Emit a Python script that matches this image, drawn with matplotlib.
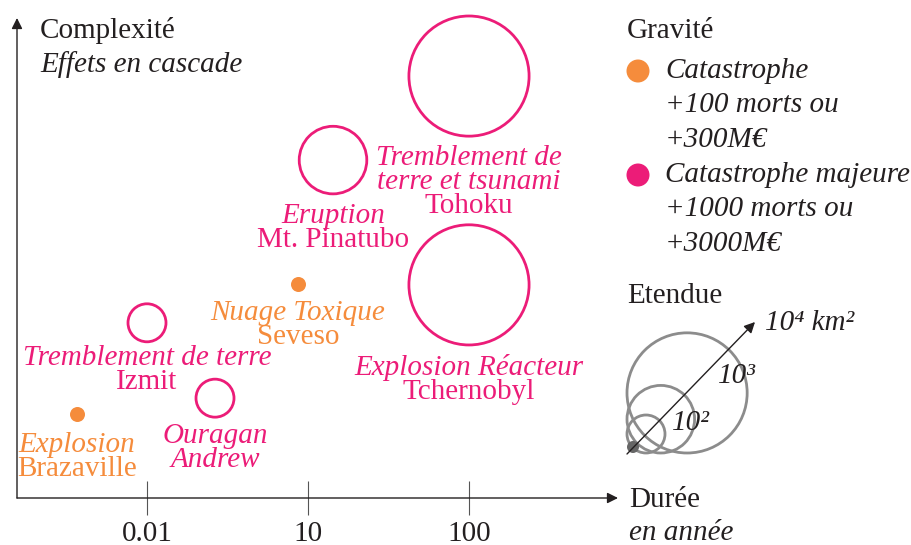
#!/usr/bin/env python
import numpy as np
from matplotlib import pyplot as plt
from matplotlib.patches import Circle

plt.rcParams['font.family'] = ['Liberation Serif', 'DejaVu Serif']

MAGENTA = '#ec1c78'
ORANGE = '#f58c3c'
INK = '#231f20'
GREY = '#8c8c8c'
FS = 21

# events: duration (years), complexity, extent (km2, None = small dot), gravity
events = ['Brazaville', 'Izmit', 'Andrew', 'Seveso', 'Pinatubo', 'Tohoku', 'Tchernobyl']
duree = [5e-4, 0.01, 0.185, 6.5, 14.3, 100, 100]
complexite = [1.75, 3.65, 2.08, 4.46, 7.04, 8.79, 4.44]
etendue = [None, 1e2, 1e2, None, 1e3, 1e4, 1e4]
majeure = [False, True, True, False, True, True, True]

labels = [
    [('Explosion', 'italic'), ('Brazaville', 'normal')],
    [('Tremblement de terre', 'italic'), ('Izmit', 'normal')],
    [('Ouragan', 'italic'), ('Andrew', 'italic')],
    [('Nuage Toxique', 'italic'), ('Seveso', 'normal')],
    [('Eruption', 'italic'), ('Mt. Pinatubo', 'normal')],
    [('Tremblement de', 'italic'), ('terre et tsunami', 'italic'), ('Tohoku', 'normal')],
    [('Explosion Réacteur', 'italic'), ('Tchernobyl', 'normal')],
]
# pixel distance from point centre down to first label baseline
label_drop = [38, 42, 45, 36, 63, 89, 90]

tick_values = [0.01, 10, 100]
tick_labels = ['0.01', '10', '100']
legend_extents = [1e2, 1e3, 1e4]
legend_extent_labels = ['10²', '10³', '10⁴ km²']


def radius_px(area):
    return 19 * (area / 100) ** 0.25


def forward(x):
    lx = np.log10(np.maximum(np.asarray(x, dtype=float), 1e-300))
    return np.where(lx <= 1, 1 + (lx + 2) / 3, 2 + (lx - 1))


def inverse(p):
    p = np.asarray(p, dtype=float)
    return np.where(p <= 2, 10 ** ((p - 1) * 3 - 2), 10 ** (p - 1))


W, H = 912, 545
fig = plt.figure(figsize=(W / 100, H / 100), dpi=100)

# pixel overlay for legend and free text
over = fig.add_axes([0, 0, 1, 1])
over.set_xlim(0, W)
over.set_ylim(H, 0)
over.axis('off')

ax = fig.add_axes([17 / W, (H - 498) / H, 601 / W, 480 / H])
ax.patch.set_alpha(0)
ax.set_xscale('function', functions=(forward, inverse))
ax.set_xlim(inverse(1 - 130 / 161), inverse(1 + 471 / 161))
ax.set_ylim(0, 10)
for sp in ax.spines.values():
    sp.set_visible(False)
ax.set_xticks(tick_values)
ax.set_xticklabels(tick_labels)
ax.xaxis.set_minor_locator(plt.NullLocator())
ax.set_yticks([])
ax.tick_params(axis='x', direction='inout', length=24.5, width=0.8, color='#555555',
               labelsize=FS, labelcolor=INK, pad=4)

arrow = dict(arrowstyle='-|>', color=INK, lw=1.0, mutation_scale=16, shrinkA=0, shrinkB=0)
ax.annotate('', xy=(1, 0), xytext=(0, 0), xycoords='axes fraction', arrowprops=arrow)
ax.annotate('', xy=(0, 1), xytext=(0, 0), xycoords='axes fraction', arrowprops=arrow)

for i, name in enumerate(events):
    col = MAGENTA if majeure[i] else ORANGE
    if etendue[i] is None:
        ax.scatter(duree[i], complexite[i], s=(15 * 0.72) ** 2, color=col, lw=0,
                   zorder=3, clip_on=False)
    else:
        r = radius_px(etendue[i])
        ax.scatter(duree[i], complexite[i], s=(2 * r * 0.72) ** 2, facecolor='none',
                   edgecolor=col, lw=2.0, zorder=3, clip_on=False)
    for j, (txt, style) in enumerate(labels[i]):
        ax.annotate(txt, xy=(duree[i], complexite[i]), xytext=(0, -label_drop[i] - 24 * j),
                    textcoords='offset pixels', ha='center', va='baseline',
                    fontsize=FS, style=style, color=col)

# axis titles
over.text(40, 38, 'Complexité', fontsize=FS, color=INK, va='baseline')
over.text(40, 72, 'Effets en cascade', fontsize=FS, style='italic', color=INK, va='baseline')
over.text(629, 507, 'Durée', fontsize=FS, color=INK, va='baseline')
over.text(629, 540, 'en année', fontsize=FS, style='italic', color=INK, va='baseline')

# gravity legend
over.text(627, 38, 'Gravité', fontsize=FS, color=INK, va='baseline')
grav_items = [
    (ORANGE, 71, ['Catastrophe', '+100 morts ou', '+300M€']),
    (MAGENTA, 175, ['Catastrophe majeure', '+1000 morts ou', '+3000M€']),
]
for col, yc, lines in grav_items:
    over.add_patch(Circle((638, yc), 11.5, color=col, lw=0))
    for j, txt in enumerate(lines):
        over.text(665, yc + 7 + 34.5 * j, txt, fontsize=FS, style='italic',
                  color=INK, va='baseline')

# extent legend
over.text(627, 303, 'Etendue', fontsize=FS, color=INK, va='baseline')
cx, cy = 627, 453
for area in legend_extents[::-1]:
    r = radius_px(area)
    over.add_patch(Circle((cx + r, cy - r), r, facecolor='none', edgecolor=GREY, lw=2.0))
over.add_patch(Circle((cx + 6, cy - 6), 6, color='#666666', lw=0))
over.annotate('', xy=(755, 322), xytext=(cx, cy + 1),
              arrowprops=dict(arrowstyle='-|>', color=INK, lw=1.0, mutation_scale=16,
                              shrinkA=0, shrinkB=0))
ext_pos = [(672, 430), (718, 383), (765, 330)]
for (tx, ty), txt in zip(ext_pos, legend_extent_labels):
    over.text(tx, ty, txt, fontsize=FS, style='italic', color=INK, va='baseline')

fig.savefig('out.png', dpi=100)
